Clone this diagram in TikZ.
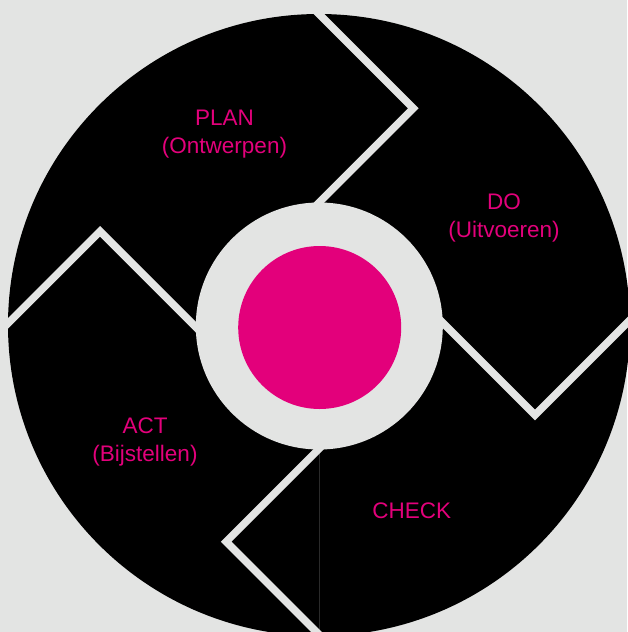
\documentclass[tikz,border=0pt]{standalone}
\usepackage{fontspec}
\setmainfont{Liberation Sans}
\definecolor{bggray}{HTML}{E3E4E3}
\definecolor{pdcapink}{HTML}{E3007B}
\definecolor{seamgray}{HTML}{2A2A2A}
\tikzset{
  sepline/.style={draw=bggray, line width=7.5pt, line join=miter},
  phase/.style={text=pdcapink, font=\fontsize{22.5}{28.5}\selectfont, align=center, inner sep=0pt, anchor=north},
  disc/.style={circle, inner sep=0pt, draw=none},
}
\begin{document}
\begin{tikzpicture}[x=1pt, y=-1pt]
\useasboundingbox (0,0) rectangle (627,632);
\fill[bggray] (0,0) rectangle (627,632);
% big black wheel
\node[disc, fill=black, minimum size=622pt] (wheel) at (319,325) {};
% faint seam
\coordinate (seamtop) at (319.3,449.5);
\coordinate (seambot) at (319.3,640);
\draw[seamgray, line width=0.8pt] (seamtop) -- (seambot);
% separator apexes
\coordinate (tA) at (413.3,108.3);
\coordinate (rA) at (535,415);
\coordinate (bA) at (226.2,541.7);
\coordinate (lA) at (100,231.3);
\draw[sepline] ([shift={(-110,-110)}]tA) -- (tA) -- ([shift={(-115,115)}]tA);
\draw[sepline] ([shift={(-115,-115)}]rA) -- (rA) -- ([shift={(110,-110)}]rA);
\draw[sepline] ([shift={(115,-115)}]bA) -- (bA) -- ([shift={(110,110)}]bA);
\draw[sepline] ([shift={(-110,110)}]lA) -- (lA) -- ([shift={(115,115)}]lA);
% hub
\node[disc, fill=bggray, minimum size=247pt] (hub) at (319.3,326) {};
\node[disc, fill=pdcapink, minimum size=163pt] (core) at (319.7,327.5) {};
% labels
\node[phase] (plan) at (224.5,109.5) {PLAN\\(Ontwerpen)};
\node[phase] (do) at (504,193.5) {DO\\(Uitvoeren)};
\node[phase] (act) at (145,417.5) {ACT\\(Bijstellen)};
\node[phase, anchor=base] (check) at (411.7,518) {CHECK};
\end{tikzpicture}
\end{document}
